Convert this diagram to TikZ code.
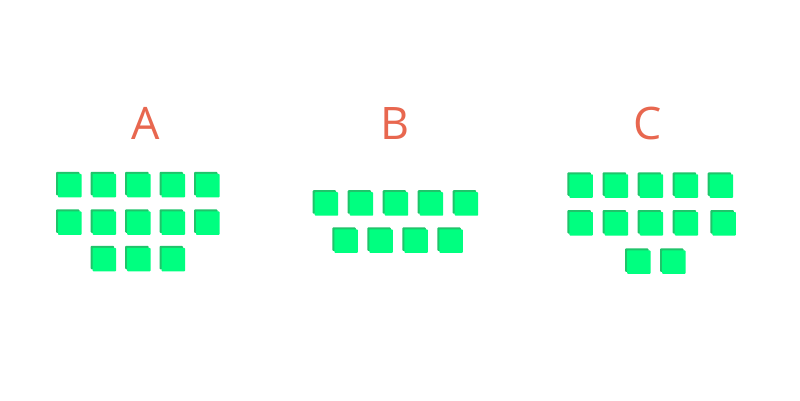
\documentclass[tikz,border=0pt]{standalone}
\usepackage{fontspec}
\setmainfont{Open Sans}
\definecolor{lbl}{HTML}{E8674F}
\definecolor{front}{HTML}{00FF80}
\definecolor{back}{HTML}{1FC46A}
\tikzset{
  lab/.style={text=lbl, font=\fontsize{44.8}{50}\selectfont, anchor=base, inner sep=0pt},
}
\newcommand{\cube}[2]{%
  \fill[back, rounded corners=1pt] (#1,#2) rectangle ++(23.5,23.5);
  \fill[front, rounded corners=0.8pt] (#1+2,#2+2) rectangle ++(23.5,23.5);
}
\begin{document}
\begin{tikzpicture}[x=1pt,y=-1pt]
\useasboundingbox[fill=white] (0,0) rectangle (800,400);
\node[lab] (la) at (145.3,139.3) {A};
\node[lab] (lb) at (394.7,139.3) {B};
\node[lab] (lc) at (647.5,139.3) {C};
% A
\foreach \x in {56,90.6,125.1,159.5,194}{\cube{\x}{171.8}\cube{\x}{209.3}}
\foreach \x in {90.6,125.1,159.5}{\cube{\x}{245.8}}
% B
\foreach \x in {312.7,347.7,382.7,417.7,452.7}{\cube{\x}{190.2}}
\foreach \x in {332.3,367.3,402.3,437.3}{\cube{\x}{227.3}}
% C
\foreach \x in {567.4,602.6,637.7,672.7,707.7}{\cube{\x}{172.3}}
\foreach \x in {567.4,602.6,637.7,672.7}{\cube{\x}{210}}
\cube{710.4}{210}
\foreach \x in {625,660}{\cube{\x}{248.3}}
\end{tikzpicture}
\end{document}
